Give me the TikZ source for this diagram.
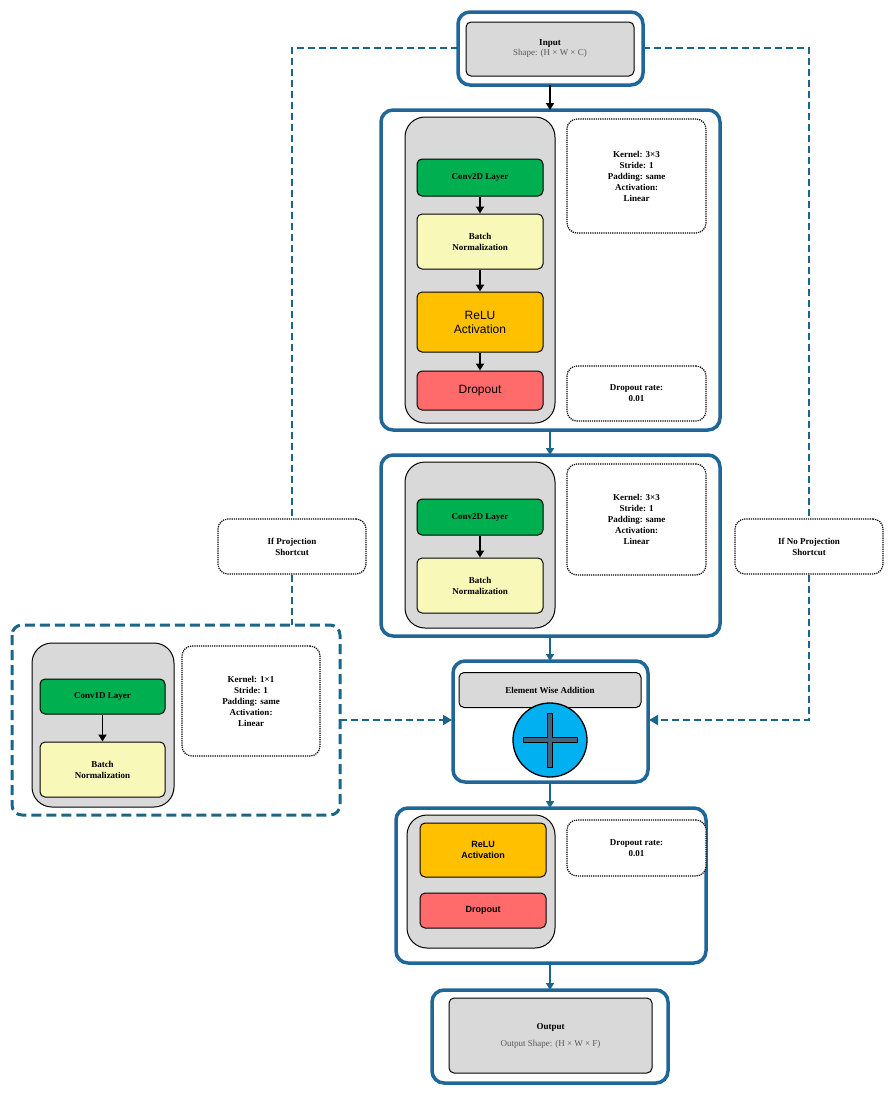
\documentclass[tikz,border=0pt]{standalone}
\usepackage{fontspec}
\setmainfont{Liberation Serif}
\setsansfont{Liberation Sans}
\usetikzlibrary{arrows.meta}
\definecolor{bl}{HTML}{1F6699}
\definecolor{dbl}{HTML}{1A6688}
\definecolor{gr}{HTML}{D9D9D9}
\definecolor{grn}{HTML}{00B050}
\definecolor{yl}{HTML}{F8F8B8}
\definecolor{org}{HTML}{FFC000}
\definecolor{red1}{HTML}{FF6B6B}
\definecolor{cy}{HTML}{00B0F0}
\tikzset{
 outer/.style={draw=bl,line width=3.5pt,rounded corners=12pt,fill=white},
 col/.style={draw=black,line width=1pt,rounded corners=20pt,fill=gr},
 lay/.style={draw=black,line width=1pt,rounded corners=5pt,align=center,font=\bfseries\small},
 info/.style={draw=black,densely dotted,line width=1.2pt,rounded corners=10pt,align=center,font=\bfseries\small,fill=white},
 barr/.style={-{Triangle[length=7pt,width=8pt]},line width=1.8pt},
 barr2/.style={-{Triangle[length=7pt,width=8pt]},line width=1.8pt,draw=dbl},
 dsh/.style={draw=dbl,line width=2pt,dash pattern=on 7pt off 4pt},
}
\newcommand\bx[6]{\node[#1,minimum width=#4pt-#2pt,minimum height=#5pt-#3pt,anchor=north west] (#6) at (#2,#3) {};}
\begin{document}
\begin{tikzpicture}[x=1pt,y=-1pt]
\useasboundingbox (0,0) rectangle (893,1095);
% input
\draw[outer] (458,12) rectangle (643,85);
\node[lay,fill=gr,minimum width=168pt,minimum height=54pt,font=\small] (in) at (550,49) {\textbf{Input}\\[-1pt]\textcolor{black!65}{Shape: (H × W × C)}};
% block1
\draw[outer] (381,110) rectangle (720,430);
\draw[col] (405,117) rectangle (555,423);
\node[lay,fill=grn,minimum width=126pt,minimum height=37pt] (c1) at (480,177.5) {Conv2D Layer};
\node[lay,fill=yl,minimum width=126pt,minimum height=55pt] (b1) at (480,241.5) {Batch\\Normalization};
\node[lay,fill=org,minimum width=126pt,minimum height=60pt,font=\sffamily\large] (r1) at (480,322) {ReLU\\Activation};
\node[lay,fill=red1,minimum width=126pt,minimum height=39pt,font=\sffamily\large] (d1) at (480,390.5) {Dropout};
\node[info,minimum width=139pt,minimum height=114pt] (i1) at (636.5,176) {Kernel: 3×3\\Stride: 1\\Padding: same\\Activation:\\Linear};
\node[info,minimum width=139pt,minimum height=55pt] (i2) at (636.5,393.5) {Dropout rate:\\0.01};
\draw[barr] (c1) -- (b1); \draw[barr] (b1) -- (r1); \draw[barr] (r1) -- (d1);
% block2
\draw[outer] (381,455) rectangle (720,636);
\draw[col] (405,462) rectangle (555,628);
\node[lay,fill=grn,minimum width=126pt,minimum height=36pt] (c2) at (480,517) {Conv2D Layer};
\node[lay,fill=yl,minimum width=126pt,minimum height=55pt] (b2) at (480,585.5) {Batch\\Normalization};
\node[info,minimum width=139pt,minimum height=111pt] (i3) at (636.5,519.5) {Kernel: 3×3\\Stride: 1\\Padding: same\\Activation:\\Linear};
\draw[barr] (c2) -- (b2);
% add
\draw[outer] (453,661) rectangle (648,782);
\node[lay,fill=gr,minimum width=182pt,minimum height=35pt,anchor=north] (ewa) at (550,672) {Element Wise Addition};
\node[circle,draw=black,line width=1.3pt,fill=cy,minimum size=74pt] (plus) at (550,740) {};
\draw[black,line width=1pt,fill=bl!60!black!80] (547.5,713) rectangle (552.5,767);
\draw[black,line width=1pt,fill=bl!60!black!80] (523,737.5) rectangle (577,742.5);
\fill[bl!60!black!80] (548,714) rectangle (552,766);
% left projection
\draw[dsh,line width=3pt,rounded corners=10pt,dash pattern=on 10pt off 5pt] (12,625) rectangle (340,815);
\draw[col] (32,643) rectangle (174,807);
\node[lay,fill=grn,minimum width=125pt,minimum height=35pt] (c3) at (102.5,696.5) {Conv1D Layer};
\node[lay,fill=yl,minimum width=125pt,minimum height=55pt] (b3) at (102.5,769.5) {Batch\\Normalization};
\node[info,minimum width=138pt,minimum height=110pt] (i4) at (251,701) {Kernel: 1×1\\Stride: 1\\Padding: same\\Activation:\\Linear};
\draw[barr] (c3) -- (b3);
\coordinate (lb) at (340,720);
% labels
\node[info,minimum width=148pt,minimum height=55pt] (lp) at (292,546.5) {If Projection\\Shortcut};
\node[info,minimum width=148pt,minimum height=55pt] (lnp) at (809,546.5) {If No Projection\\Shortcut};
% bottom block
\draw[outer] (396,808) rectangle (706,963);
\draw[col] (407,815) rectangle (555,948);
\node[lay,fill=org,minimum width=126pt,minimum height=54pt,font=\sffamily\bfseries\small] (r2) at (483,850) {ReLU\\Activation};
\node[lay,fill=red1,minimum width=126pt,minimum height=35pt,font=\sffamily\bfseries\small] (d2) at (483,910.5) {Dropout};
\node[info,minimum width=139pt,minimum height=56pt] (i5) at (636.5,848) {Dropout rate:\\0.01};
% output
\draw[outer] (432,990) rectangle (668,1083);
\node[lay,fill=gr,minimum width=203pt,minimum height=75pt,font=\small] (out) at (550.5,1035.5) {\textbf{Output}\\[6pt]\textcolor{black!65}{Output Shape: (H × W × F)}};
% main arrows
\draw[barr] (550,85) -- (550,110);
\draw[barr2] (550,430) -- (550,455);
\draw[barr2] (550,636) -- (550,661);
\draw[barr2] (550,782) -- (550,808);
\draw[barr2] (550,963) -- (550,990);
% dashed shortcuts
\draw[dsh] (458,48) -| (lp.north);
\draw[dsh] (lp.south) -- (292,625);
\draw[dsh] (643,48) -| (lnp.north);
\draw[dsh,-{Triangle[length=9pt,width=10pt]}] (lnp.south) |- (649,720);
\draw[dsh,-{Triangle[length=9pt,width=10pt]}] (lb) -- (452,720);
\end{tikzpicture}
\end{document}
